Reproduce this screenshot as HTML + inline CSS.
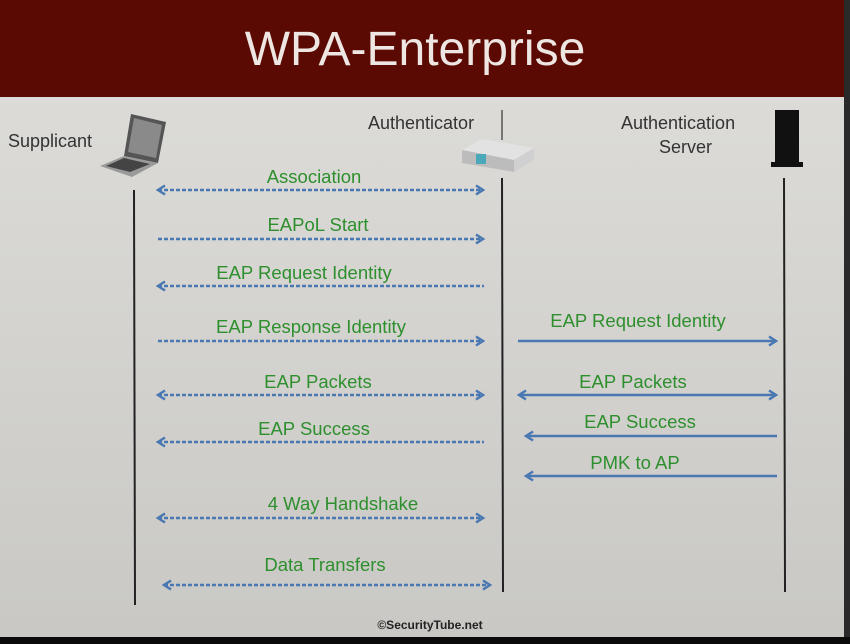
<!DOCTYPE html>
<html><head><meta charset="utf-8"><style>
html,body{margin:0;padding:0;width:850px;height:644px;overflow:hidden;background:#d6d5d1}
svg{display:block}
text{font-family:"Liberation Sans",sans-serif}
.g{fill:#2e8f2e;font-size:18.5px;text-anchor:middle}
.k{fill:#333;font-size:18px}
</style></head><body>
<svg width="850" height="644" viewBox="0 0 850 644">
<defs>
<marker id="a" markerWidth="12" markerHeight="12" refX="8" refY="6" orient="auto-start-reverse" markerUnits="userSpaceOnUse">
<path d="M1,1.5 L8,6 L1,10.5" fill="none" stroke="#4a78b2" stroke-width="2.5"/></marker>
<linearGradient id="bg" x1="0" y1="0" x2="0" y2="1"><stop offset="0" stop-color="#dcdbd7"/><stop offset="1" stop-color="#c9c8c4"/></linearGradient>
</defs>
<rect x="0" y="97" width="850" height="540" fill="url(#bg)"/>
<rect x="0" y="0" width="850" height="97" fill="#5a0a02"/>
<text x="415" y="65" font-size="48" fill="#eee6e2" text-anchor="middle">WPA-Enterprise</text>
<rect x="844" y="0" width="6" height="644" fill="#2a2a2a"/>
<rect x="0" y="637" width="850" height="7" fill="#0a0a0a"/>

<text class="k" x="8" y="147">Supplicant</text>
<text class="k" x="368" y="129">Authenticator</text>
<text class="k" x="621" y="129">Authentication</text>
<text class="k" x="659" y="153">Server</text>

<!-- laptop -->
<polygon points="131,114 166,122 158,163 124,156" fill="#555"/>
<polygon points="134,118 162,125 156,158 128,152" fill="#8a8a8a"/>
<polygon points="100,166 124,156 158,163 132,177" fill="#9a9a9a"/>
<polygon points="106,166 124,158 150,164 130,172" fill="#444"/>
<!-- router -->
<line x1="502" y1="110" x2="502" y2="140" stroke="#555" stroke-width="1.5"/>
<polygon points="462,150 482,139 534,148 514,160" fill="#e2e2e2"/>
<polygon points="462,150 514,160 514,172 462,163" fill="#bcbcbc"/>
<polygon points="514,160 534,148 534,160 514,172" fill="#d0d0d0"/>
<rect x="476" y="154" width="10" height="10" fill="#4aa8b8"/>
<!-- server -->
<rect x="775" y="110" width="24" height="56" fill="#111"/>
<rect x="771" y="162" width="32" height="5" fill="#111"/>

<g stroke="#222" stroke-width="2">
<line x1="134" y1="190" x2="135" y2="605"/>
<line x1="502" y1="178" x2="503" y2="592"/>
<line x1="784" y1="178" x2="785" y2="592"/>
</g>

<g stroke="#4a78b2" stroke-width="2.4" fill="none">
<g stroke-dasharray="4,2">
<line x1="158" y1="190" x2="483" y2="190" marker-start="url(#a)" marker-end="url(#a)"/>
<line x1="158" y1="239" x2="483" y2="239" marker-end="url(#a)"/>
<line x1="158" y1="286" x2="484" y2="286" marker-start="url(#a)"/>
<line x1="158" y1="341" x2="483" y2="341" marker-end="url(#a)"/>
<line x1="158" y1="395" x2="483" y2="395" marker-start="url(#a)" marker-end="url(#a)"/>
<line x1="158" y1="442" x2="484" y2="442" marker-start="url(#a)"/>
<line x1="158" y1="518" x2="483" y2="518" marker-start="url(#a)" marker-end="url(#a)"/>
<line x1="164" y1="585" x2="490" y2="585" marker-start="url(#a)" marker-end="url(#a)"/>
</g>
<line x1="518" y1="341" x2="776" y2="341" marker-end="url(#a)"/>
<line x1="519" y1="395" x2="776" y2="395" marker-start="url(#a)" marker-end="url(#a)"/>
<line x1="526" y1="436" x2="777" y2="436" marker-start="url(#a)"/>
<line x1="526" y1="476" x2="777" y2="476" marker-start="url(#a)"/>
</g>

<text class="g" x="314" y="183">Association</text>
<text class="g" x="318" y="231">EAPoL Start</text>
<text class="g" x="304" y="279">EAP Request Identity</text>
<text class="g" x="311" y="333">EAP Response Identity</text>
<text class="g" x="318" y="388">EAP Packets</text>
<text class="g" x="314" y="435">EAP Success</text>
<text class="g" x="343" y="510">4 Way Handshake</text>
<text class="g" x="325" y="571">Data Transfers</text>
<text class="g" x="638" y="327">EAP Request Identity</text>
<text class="g" x="633" y="388">EAP Packets</text>
<text class="g" x="640" y="428">EAP Success</text>
<text class="g" x="635" y="469">PMK to AP</text>
<text x="430" y="629" font-size="12" fill="#222" text-anchor="middle" font-weight="bold">©SecurityTube.net</text>
</svg>
</body></html>
